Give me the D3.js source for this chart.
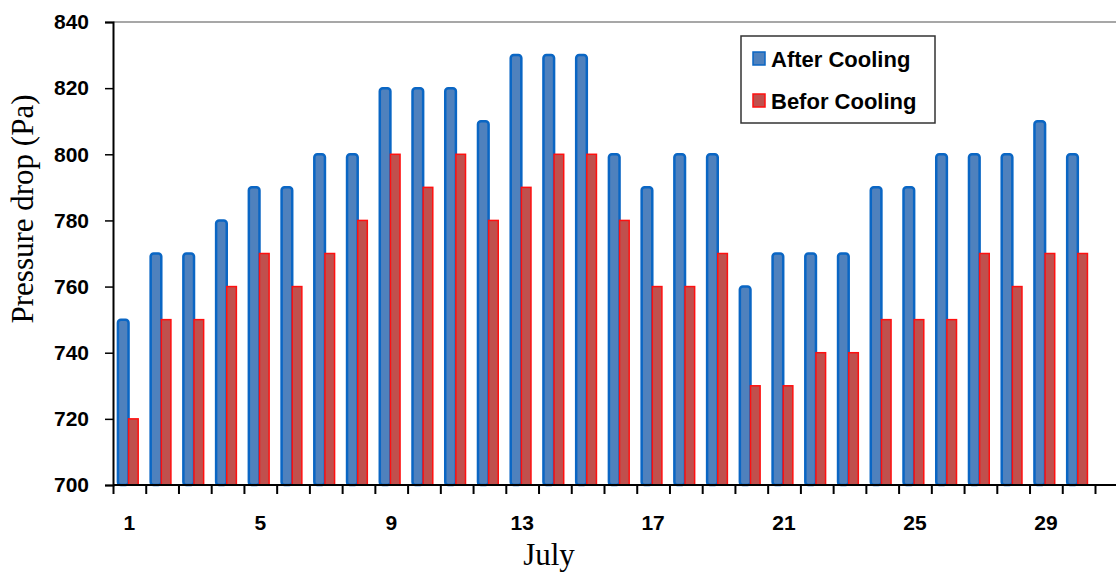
<!DOCTYPE html>
<html>
<head>
<meta charset="utf-8">
<script src="https://cdn.jsdelivr.net/npm/d3@7"></script>
<style>
  body { margin: 0; background: #fff; }
  svg { display: block; }
  .tick text { font-family: "Liberation Sans", Arial, sans-serif; font-weight: bold; font-size: 21px; fill: #000; }
</style>
</head>
<body>
<div id="chart"></div>
<script>
const days = d3.range(1, 31);
const afterCooling = [750, 770, 770, 780, 790, 790, 800, 800, 820, 820,
                      820, 810, 830, 830, 830, 800, 790, 800, 800, 760,
                      770, 770, 770, 790, 790, 800, 800, 800, 810, 800];
const beforeCooling = [720, 750, 750, 760, 770, 760, 770, 780, 800, 790,
                       800, 780, 790, 800, 800, 780, 760, 760, 770, 730,
                       730, 740, 740, 750, 750, 750, 770, 760, 770, 770];
const xLabels = [1, 5, 9, 13, 17, 21, 25, 29];
const yTicks = [700, 720, 740, 760, 780, 800, 820, 840];
const seriesNames = ["After Cooling", "Befor Cooling"];

const width = 1116, height = 572;
const plotLeft = 113, plotRight = 1095, plotTop = 22, plotBottom = 485;

const svg = d3.select("#chart").append("svg")
  .attr("width", width)
  .attr("height", height);

const x = d3.scaleBand().domain(days).range([plotLeft, plotRight]);
const xEdge = d3.scaleLinear().domain([0, 30]).range([plotLeft, plotRight]);
const bw = x.bandwidth();
const xs = d3.scaleBand().domain(seriesNames).range([0.15 * bw, 0.8 * bw]);
const y = d3.scaleLinear().domain([700, 840]).range([plotBottom, plotTop]);

// top border of plot area
svg.append("line")
  .attr("x1", plotLeft).attr("x2", width)
  .attr("y1", y(840)).attr("y2", y(840))
  .attr("stroke", "#8a8a8a").attr("stroke-width", 1.5);

// bars
const rows = days.map((d, i) => ({ day: d, after: afterCooling[i], before: beforeCooling[i] }));

svg.append("g").selectAll("rect")
  .data(rows)
  .join("rect")
  .attr("x", d => x(d.day) + xs("After Cooling"))
  .attr("y", d => y(d.after))
  .attr("width", xs.bandwidth())
  .attr("height", d => y(700) - y(d.after))
  .attr("rx", 3)
  .attr("fill", "#4f81bd")
  .attr("stroke", "#0a66c4")
  .attr("stroke-width", 2.5);

svg.append("g").selectAll("rect")
  .data(rows)
  .join("rect")
  .attr("x", d => x(d.day) + xs("Befor Cooling"))
  .attr("y", d => y(d.before))
  .attr("width", xs.bandwidth() - 1)
  .attr("height", d => y(700) - y(d.before))
  .attr("fill", "#c0504d")
  .attr("stroke", "#ff1010")
  .attr("stroke-width", 1.5);

// y axis
const yAxis = svg.append("g")
  .attr("transform", `translate(${plotLeft},0)`)
  .call(d3.axisLeft(y).tickValues(yTicks).tickSize(8).tickPadding(16));
yAxis.select(".domain").attr("stroke", "#000").attr("stroke-width", 2);
yAxis.selectAll(".tick line").attr("stroke", "#000").attr("stroke-width", 1.5);

// x axis tick marks at category edges
const xTickAxis = svg.append("g")
  .attr("transform", `translate(0,${plotBottom})`)
  .call(d3.axisBottom(xEdge).ticks(30).tickSize(9).tickFormat(""));
xTickAxis.select(".domain").remove();
xTickAxis.selectAll(".tick line").attr("stroke", "#000").attr("stroke-width", 2);

svg.append("line")
  .attr("x1", plotLeft).attr("x2", width)
  .attr("y1", plotBottom).attr("y2", plotBottom)
  .attr("stroke", "#000").attr("stroke-width", 2);

// x labels at category centres
const xLabelAxis = svg.append("g")
  .attr("transform", `translate(0,${plotBottom})`)
  .call(d3.axisBottom(x).tickValues(xLabels).tickSize(0).tickPadding(30));
xLabelAxis.select(".domain").remove();

// axis titles
svg.append("text")
  .attr("x", 549).attr("y", 565)
  .attr("text-anchor", "middle")
  .style("font-family", "'Liberation Serif', 'Times New Roman', serif")
  .style("font-size", "31px")
  .text("July");

svg.append("text")
  .attr("transform", "translate(33,209) rotate(-90)")
  .attr("text-anchor", "middle")
  .style("font-family", "'Liberation Serif', 'Times New Roman', serif")
  .style("font-size", "31px")
  .text("Pressure drop (Pa)");

// legend
const legend = svg.append("g");
legend.append("rect")
  .attr("x", 741).attr("y", 36)
  .attr("width", 194).attr("height", 87)
  .attr("fill", "#fff")
  .attr("stroke", "#333").attr("stroke-width", 1.5);

const legendColors = [["#4f81bd", "#0a66c4"], ["#c0504d", "#ff1010"]];
const legendY = d3.scalePoint().domain(seriesNames).range([67, 109]);

legend.selectAll("rect.key")
  .data(seriesNames)
  .join("rect")
  .attr("class", "key")
  .attr("x", 753).attr("y", d => legendY(d) - 15)
  .attr("width", 12).attr("height", 13)
  .attr("fill", (d, i) => legendColors[i][0])
  .attr("stroke", (d, i) => legendColors[i][1])
  .attr("stroke-width", 1.5);

legend.selectAll("text")
  .data(seriesNames)
  .join("text")
  .attr("x", 771).attr("y", d => legendY(d))
  .style("font-family", "'Liberation Sans', Arial, sans-serif")
  .style("font-weight", "bold")
  .style("font-size", "22px")
  .text(d => d);
</script>
</body>
</html>
